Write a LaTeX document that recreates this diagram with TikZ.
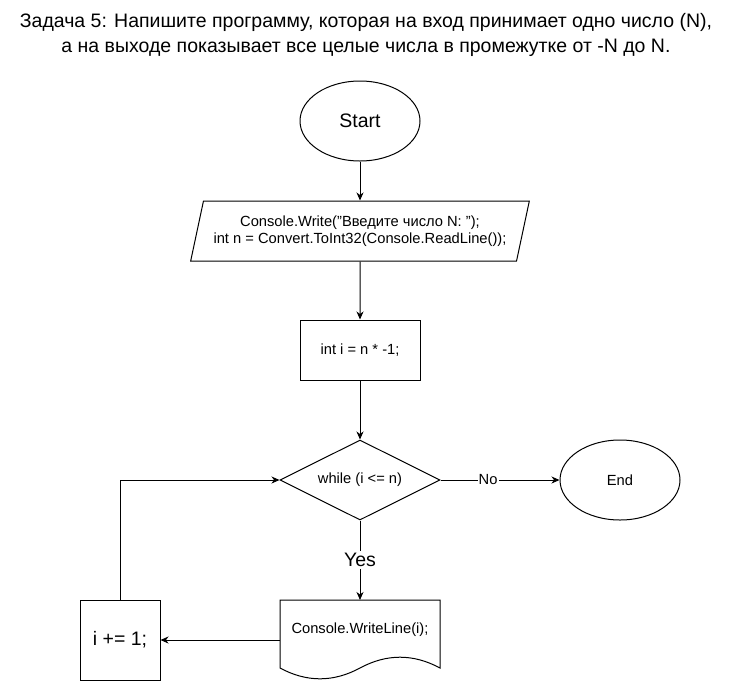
\documentclass[tikz,border=0pt]{standalone}
\usepackage{fontspec}
\setmainfont{Liberation Sans}
\usetikzlibrary{shapes.geometric,arrows.meta}
\begin{document}
\begin{tikzpicture}[x=1pt,y=-1pt,
  base/.style={draw=black,line width=1pt,inner sep=0pt,align=center},
  small/.style={font=\fontsize{14.7}{17.5}\selectfont},
  conn/.style={line width=1pt,-{Stealth[length=8pt,width=7pt,inset=2.5pt]}},
  plain/.style={line width=1pt}]
\useasboundingbox (0,0) rectangle (731,681);
\node[align=center,font=\fontsize{19.5}{25}\selectfont] (title) at (366,35) {Задача 5: Напишите программу, которая на вход принимает одно число (N),\\а на выходе показывает все целые числа в промежутке от -N до N.};
\node[base,ellipse,minimum width=120pt,minimum height=80pt,font=\fontsize{19.5}{23}\selectfont] (start) at (360,121) {Start};
\node[base,trapezium,trapezium left angle=69,trapezium right angle=111,minimum width=340pt,minimum height=60pt,trapezium stretches=true,small] (inp) at (360,231) {Console.Write("Введите число N: ");\\int n = Convert.ToInt32(Console.ReadLine());};
\node[base,rectangle,minimum width=120pt,minimum height=60pt,small] (init) at (360,350) {int i = n * -1;};
\node[base,diamond,minimum width=160pt,minimum height=80pt,aspect=2,small] (cond) at (360,480) {while (i <= n)};
\node[base,ellipse,minimum width=120pt,minimum height=80pt,small] (end) at (620,480) {End};
\coordinate (doctop) at (360,600);
\coordinate (docleft) at (280,640);
\draw[plain] (280,600) -- (440,600) -- (440,668)
  .. controls (413.33,653.6) and (386.67,653.6) .. (360,668)
  .. controls (333.33,682.4) and (306.67,682.4) .. (280,668) -- cycle;
\node[small] (doctext) at (360,630) {Console.WriteLine(i);};
\node[base,rectangle,minimum width=80pt,minimum height=80pt,font=\fontsize{19.5}{23}\selectfont] (inc) at (120,640) {i += 1;};
\draw[conn] (start) -- (inp);
\draw[conn] (inp) -- (init);
\draw[conn] (init) -- (cond);
\draw[conn] (cond) -- node[pos=0.4,fill=white,inner sep=1pt,small] {No} (end);
\draw[conn] (cond) -- node[fill=white,inner sep=2pt,font=\fontsize{19.5}{23}\selectfont] {Yes} (doctop);
\draw[conn] (docleft) -- (inc);
\draw[conn] (inc.north) |- (cond.west);
\end{tikzpicture}
\end{document}
